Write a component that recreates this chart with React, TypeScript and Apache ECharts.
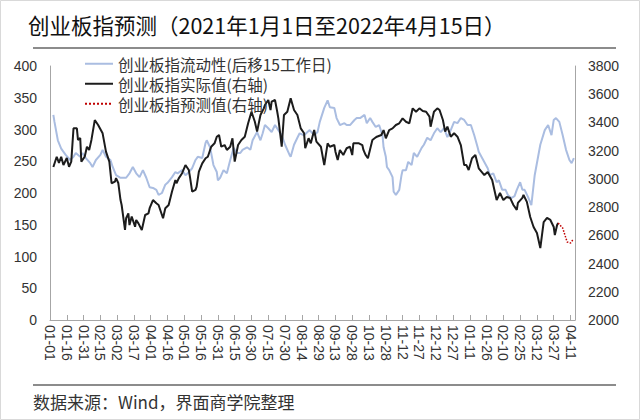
import React, { useEffect, useRef } from "react";
import * as echarts from "echarts";

// ---------- data ----------
const startDate = "2021-01-01";
const endDate = "2022-04-15";
const tickDays = 15;

const titleText = "创业板指预测（2021年1月1日至2022年4月15日）";
const sourceText = "数据来源：Wind，界面商学院整理";
const seriesNames = [
  "创业板指流动性(后移15工作日)",
  "创业板指实际值(右轴)",
  "创业板指预测值(右轴)",
];

const leftTicks = { min: 0, max: 400, interval: 50 };
const rightTicks = { min: 2000, max: 3800, interval: 200 };

// 创业板指流动性 (left axis)
const liquidity: [string, number][] = [
  ["2021-01-04", 323], ["2021-01-05", 312], ["2021-01-08", 283], ["2021-01-11", 270],
  ["2021-01-15", 260], ["2021-01-19", 252], ["2021-01-22", 257], ["2021-01-24", 263],
  ["2021-01-28", 257], ["2021-01-30", 263], ["2021-02-02", 255], ["2021-02-06", 247],
  ["2021-02-08", 241], ["2021-02-11", 252], ["2021-02-15", 260], ["2021-02-17", 268],
  ["2021-02-20", 257], ["2021-02-24", 252], ["2021-02-26", 241], ["2021-03-01", 228],
  ["2021-03-05", 224], ["2021-03-07", 224], ["2021-03-10", 224], ["2021-03-13", 231],
  ["2021-03-16", 241], ["2021-03-19", 231], ["2021-03-22", 225], ["2021-03-25", 236],
  ["2021-03-28", 224], ["2021-03-31", 209], ["2021-04-03", 208], ["2021-04-06", 205],
  ["2021-04-08", 197], ["2021-04-11", 200], ["2021-04-14", 213], ["2021-04-16", 216],
  ["2021-04-20", 225], ["2021-04-23", 233], ["2021-04-25", 231], ["2021-04-29", 236],
  ["2021-05-02", 228], ["2021-05-04", 231], ["2021-05-08", 239], ["2021-05-11", 252],
  ["2021-05-13", 257], ["2021-05-17", 255], ["2021-05-20", 279], ["2021-05-21", 283],
  ["2021-05-24", 272], ["2021-05-27", 244], ["2021-05-30", 233], ["2021-05-31", 220],
  ["2021-06-02", 224], ["2021-06-05", 236], ["2021-06-08", 231], ["2021-06-11", 252],
  ["2021-06-14", 271], ["2021-06-17", 263], ["2021-06-20", 263], ["2021-06-22", 268],
  ["2021-06-26", 272], ["2021-06-29", 268], ["2021-07-01", 283], ["2021-07-05", 296],
  ["2021-07-08", 283], ["2021-07-10", 294], ["2021-07-12", 307], ["2021-07-15", 302],
  ["2021-07-18", 296], ["2021-07-21", 307], ["2021-07-25", 296], ["2021-07-27", 291],
  ["2021-07-30", 276], ["2021-08-03", 260], ["2021-08-04", 257], ["2021-08-07", 276],
  ["2021-08-10", 287], ["2021-08-12", 294], ["2021-08-16", 291], ["2021-08-19", 296],
  ["2021-08-21", 299], ["2021-08-25", 291], ["2021-08-28", 296], ["2021-08-30", 312],
  ["2021-09-03", 334], ["2021-09-06", 346], ["2021-09-08", 335], ["2021-09-12", 334],
  ["2021-09-14", 318], ["2021-09-17", 307], ["2021-09-21", 310], ["2021-09-23", 307],
  ["2021-09-26", 307], ["2021-09-30", 315], ["2021-10-02", 318], ["2021-10-05", 318],
  ["2021-10-09", 323], ["2021-10-11", 310], ["2021-10-14", 318], ["2021-10-16", 312],
  ["2021-10-19", 304], ["2021-10-22", 307], ["2021-10-25", 291], ["2021-10-26", 272],
  ["2021-10-28", 257], ["2021-10-29", 241], ["2021-10-31", 236], ["2021-11-03", 225],
  ["2021-11-04", 202], ["2021-11-06", 197], ["2021-11-09", 205], ["2021-11-11", 228],
  ["2021-11-12", 236], ["2021-11-15", 236], ["2021-11-17", 249], ["2021-11-20", 244],
  ["2021-11-22", 263], ["2021-11-25", 257], ["2021-11-29", 271], ["2021-12-01", 276],
  ["2021-12-04", 287], ["2021-12-07", 283], ["2021-12-10", 294], ["2021-12-13", 302],
  ["2021-12-16", 296], ["2021-12-19", 302], ["2021-12-22", 288], ["2021-12-25", 299],
  ["2021-12-28", 312], ["2021-12-31", 310], ["2022-01-03", 318], ["2022-01-06", 315],
  ["2022-01-09", 307], ["2022-01-12", 307], ["2022-01-15", 291], ["2022-01-18", 272],
  ["2022-01-19", 265], ["2022-01-23", 252], ["2022-01-27", 239], ["2022-01-29", 228],
  ["2022-02-01", 231], ["2022-02-04", 217], ["2022-02-06", 220], ["2022-02-09", 205],
  ["2022-02-12", 205], ["2022-02-14", 197], ["2022-02-17", 192], ["2022-02-20", 195],
  ["2022-02-22", 205], ["2022-02-25", 217], ["2022-02-27", 205], ["2022-03-01", 205],
  ["2022-03-04", 194], ["2022-03-07", 181], ["2022-03-10", 228], ["2022-03-15", 276],
  ["2022-03-19", 299], ["2022-03-22", 307], ["2022-03-25", 291], ["2022-03-27", 315],
  ["2022-03-29", 318], ["2022-04-01", 312], ["2022-04-04", 291], ["2022-04-07", 268],
  ["2022-04-10", 252], ["2022-04-12", 247], ["2022-04-14", 255],
];

// 创业板指实际值 (right axis)
const actual: [string, number][] = [
  ["2021-01-04", 3084], ["2021-01-07", 3157], ["2021-01-09", 3113], ["2021-01-11", 3157],
  ["2021-01-13", 3098], ["2021-01-16", 3148], ["2021-01-18", 3086], ["2021-01-20", 3122],
  ["2021-01-22", 3358], ["2021-01-25", 3358], ["2021-01-26", 3276], ["2021-01-28", 3290],
  ["2021-01-29", 3122], ["2021-02-01", 3157], ["2021-02-03", 3228], ["2021-02-05", 3205],
  ["2021-02-07", 3276], ["2021-02-10", 3417], ["2021-02-13", 3382], ["2021-02-17", 3323],
  ["2021-02-20", 3193], ["2021-02-23", 3122], ["2021-02-25", 2969], ["2021-02-28", 2980],
  ["2021-03-01", 3006], ["2021-03-03", 2971], ["2021-03-05", 2850], ["2021-03-06", 2815],
  ["2021-03-09", 2638], ["2021-03-10", 2721], ["2021-03-12", 2756], ["2021-03-13", 2673],
  ["2021-03-15", 2733], ["2021-03-18", 2661], ["2021-03-19", 2709], ["2021-03-21", 2685],
  ["2021-03-24", 2638], ["2021-03-27", 2744], ["2021-03-30", 2756], ["2021-03-31", 2792],
  ["2021-04-03", 2850], ["2021-04-06", 2827], ["2021-04-08", 2815], ["2021-04-12", 2721],
  ["2021-04-14", 2792], ["2021-04-17", 2815], ["2021-04-20", 2910], ["2021-04-23", 2992],
  ["2021-04-24", 2969], ["2021-04-26", 3004], ["2021-04-29", 3040], ["2021-05-02", 3098],
  ["2021-05-05", 3063], ["2021-05-06", 3016], ["2021-05-08", 2910], ["2021-05-11", 2922],
  ["2021-05-12", 2945], ["2021-05-14", 3051], ["2021-05-17", 3110], ["2021-05-20", 3146],
  ["2021-05-22", 3157], ["2021-05-25", 3228], ["2021-05-28", 3252], ["2021-05-30", 3299],
  ["2021-06-01", 3311], ["2021-06-03", 3228], ["2021-06-06", 3240], ["2021-06-08", 3205],
  ["2021-06-11", 3228], ["2021-06-13", 3288], ["2021-06-15", 3122], ["2021-06-18", 3240],
  ["2021-06-21", 3276], ["2021-06-24", 3299], ["2021-06-27", 3394], ["2021-06-30", 3476],
  ["2021-07-03", 3405], ["2021-07-05", 3335], ["2021-07-08", 3453], ["2021-07-11", 3500],
  ["2021-07-12", 3524], ["2021-07-15", 3559], ["2021-07-17", 3488], ["2021-07-18", 3547],
  ["2021-07-21", 3559], ["2021-07-23", 3476], ["2021-07-24", 3429], ["2021-07-27", 3228],
  ["2021-07-29", 3453], ["2021-08-01", 3476], ["2021-08-04", 3571], ["2021-08-07", 3488],
  ["2021-08-10", 3453], ["2021-08-13", 3358], ["2021-08-16", 3323], ["2021-08-17", 3217],
  ["2021-08-20", 3288], ["2021-08-22", 3252], ["2021-08-25", 3346], ["2021-08-27", 3264],
  ["2021-08-31", 3228], ["2021-09-03", 3098], ["2021-09-06", 3252], ["2021-09-08", 3228],
  ["2021-09-12", 3240], ["2021-09-13", 3193], ["2021-09-15", 3134], ["2021-09-17", 3205],
  ["2021-09-20", 3169], ["2021-09-23", 3217], ["2021-09-26", 3228], ["2021-09-28", 3169],
  ["2021-09-29", 3252], ["2021-10-04", 3252], ["2021-10-07", 3240], ["2021-10-08", 3205],
  ["2021-10-10", 3169], ["2021-10-12", 3146], ["2021-10-16", 3276], ["2021-10-18", 3288],
  ["2021-10-20", 3299], ["2021-10-24", 3311], ["2021-10-26", 3346], ["2021-10-28", 3288],
  ["2021-10-31", 3346], ["2021-11-03", 3358], ["2021-11-06", 3382], ["2021-11-09", 3394],
  ["2021-11-12", 3429], ["2021-11-15", 3405], ["2021-11-18", 3394], ["2021-11-21", 3500],
  ["2021-11-24", 3476], ["2021-11-27", 3500], ["2021-11-30", 3481], ["2021-12-03", 3476],
  ["2021-12-06", 3441], ["2021-12-07", 3370], ["2021-12-10", 3476], ["2021-12-13", 3500],
  ["2021-12-15", 3488], ["2021-12-18", 3417], ["2021-12-20", 3335], ["2021-12-22", 3370],
  ["2021-12-25", 3299], ["2021-12-28", 3323], ["2021-12-31", 3299], ["2022-01-03", 3240],
  ["2022-01-06", 3098], ["2022-01-08", 3098], ["2022-01-10", 3063], ["2022-01-13", 3146],
  ["2022-01-16", 3169], ["2022-01-19", 3075], ["2022-01-24", 3027], ["2022-01-27", 3049],
  ["2022-01-31", 2992], ["2022-02-04", 2850], ["2022-02-07", 2900], ["2022-02-10", 2850],
  ["2022-02-13", 2872], ["2022-02-16", 2865], ["2022-02-19", 2815], ["2022-02-22", 2780],
  ["2022-02-23", 2830], ["2022-02-27", 2865], ["2022-02-28", 2886], ["2022-03-03", 2837],
  ["2022-03-06", 2730], ["2022-03-09", 2659], ["2022-03-12", 2617], ["2022-03-15", 2510],
  ["2022-03-18", 2694], ["2022-03-21", 2723], ["2022-03-24", 2709], ["2022-03-27", 2659],
  ["2022-03-28", 2602], ["2022-03-30", 2673], ["2022-03-31", 2687],
];

// 创业板指预测值 (right axis)
const forecast: [string, number][] = [
  ["2022-03-31", 2687], ["2022-04-04", 2652], ["2022-04-06", 2602], ["2022-04-08", 2553],
  ["2022-04-11", 2546], ["2022-04-13", 2567],
];

// ---------- helpers ----------
const DAY_MS = 86400000;
const parseUTC = (s: string) => {
  const [y, m, d] = s.split("-").map(Number);
  return Date.UTC(y, m - 1, d);
};
const BASE = parseUTC(startDate);
const toDay = (s: string) => Math.round((parseUTC(s) - BASE) / DAY_MS);
const dayLabel = (v: number) => {
  const dt = new Date(BASE + v * DAY_MS);
  const mm = String(dt.getUTCMonth() + 1).padStart(2, "0");
  const dd = String(dt.getUTCDate()).padStart(2, "0");
  return `${mm}-${dd}`;
};
const toPoints = (arr: [string, number][]) => arr.map(([d, v]) => [toDay(d), v]);

const CJK = '"Noto Sans CJK SC", "Noto Sans", sans-serif';
const NUM = '"Liberation Sans", Arial, sans-serif';

export default function App() {
  const ref = useRef<HTMLDivElement>(null);

  useEffect(() => {
    if (!ref.current) return;
    const chart = echarts.init(ref.current, undefined, { renderer: "svg" });
    const axisLineStyle = { color: "#A6A6A6", width: 1 };
    const yLabel = {
      fontSize: 14,
      color: "#333",
      fontFamily: NUM,
      margin: 13,
      formatter: (v: number) => String(v),
    };

    chart.setOption({
      animation: false,
      backgroundColor: "#fff",
      grid: { left: 50, right: 65, top: 66, bottom: 100 },
      legend: {
        orient: "vertical",
        left: 79,
        top: 51,
        itemWidth: 28,
        itemHeight: 14,
        itemGap: 4.5,
        data: seriesNames,
        itemStyle: { opacity: 0 },
        textStyle: { fontSize: 15.5, color: "#333", fontFamily: CJK },
      },
      xAxis: {
        type: "value",
        min: 0,
        max: toDay(endDate),
        interval: tickDays,
        axisLine: { show: true, lineStyle: axisLineStyle },
        axisTick: { show: true, inside: true, length: 5, lineStyle: axisLineStyle },
        splitLine: { show: false },
        axisLabel: {
          rotate: -90,
          margin: 5,
          fontSize: 14,
          color: "#333",
          fontFamily: NUM,
          showMaxLabel: false,
          formatter: (v: number) => (v % tickDays === 0 ? dayLabel(v) : ""),
        },
      },
      yAxis: [
        {
          type: "value",
          ...leftTicks,
          axisLine: { show: true, lineStyle: axisLineStyle },
          axisTick: { show: false },
          splitLine: { show: false },
          axisLabel: yLabel,
        },
        {
          type: "value",
          position: "right",
          ...rightTicks,
          axisLine: { show: true, lineStyle: axisLineStyle },
          axisTick: { show: false },
          splitLine: { show: false },
          axisLabel: yLabel,
        },
      ],
      series: [
        {
          name: seriesNames[0],
          type: "line",
          yAxisIndex: 0,
          symbol: "none",
          data: toPoints(liquidity),
          lineStyle: { color: "#AABDE1", width: 2 },
          itemStyle: { color: "#AABDE1" },
        },
        {
          name: seriesNames[1],
          type: "line",
          yAxisIndex: 1,
          symbol: "none",
          data: toPoints(actual),
          lineStyle: { color: "#1C1C1C", width: 2 },
          itemStyle: { color: "#1C1C1C" },
        },
        {
          name: seriesNames[2],
          type: "line",
          yAxisIndex: 1,
          symbol: "none",
          data: toPoints(forecast),
          lineStyle: { color: "#C00000", width: 1.5, type: "dotted" },
          itemStyle: { color: "#C00000" },
        },
      ],
      graphic: [
        {
          type: "rect",
          shape: { x: 0.5, y: 0.5, width: 639, height: 419 },
          style: { fill: "none", stroke: "#D9D9D9", lineWidth: 1 },
          silent: true,
        },
        {
          type: "text",
          left: 28,
          top: 14,
          style: { text: titleText, fontSize: 21.5, fontFamily: CJK, fill: "#111" },
        },
        {
          type: "line",
          shape: { x1: 33, y1: 48, x2: 616, y2: 48 },
          style: { stroke: "#8C8C8C", lineWidth: 2 },
        },
        {
          type: "line",
          shape: { x1: 33, y1: 385, x2: 616, y2: 385 },
          style: { stroke: "#8C8C8C", lineWidth: 2 },
        },
        {
          type: "text",
          left: 33,
          top: 393,
          style: { text: sourceText, fontSize: 17, fontFamily: CJK, fill: "#333" },
        },
      ],
    });
    return () => chart.dispose();
  }, []);

  return (
    <div
      ref={ref}
      style={{ position: "fixed", left: 0, top: 0, width: 640, height: 420, background: "#fff" }}
    />
  );
}
